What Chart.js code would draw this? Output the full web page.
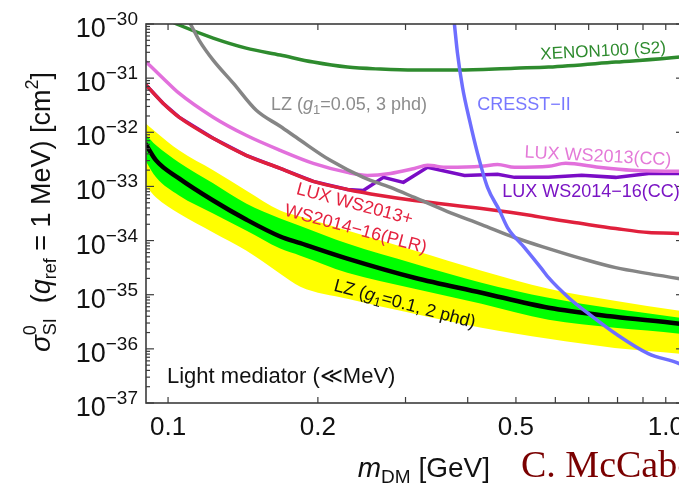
<!DOCTYPE html>
<html>
<head>
<meta charset="utf-8">
<script src="https://cdn.jsdelivr.net/npm/chart.js@4.4.1/dist/chart.umd.min.js"></script>
<style>
  html, body { margin: 0; padding: 0; background: #fff; overflow: hidden; }
  body { width: 679px; height: 488px; position: relative; }
  #wrap { position: absolute; left: 0; top: 0; width: 690px; height: 488px; }
</style>
</head>
<body>
<div id="wrap"><canvas id="limits" width="690" height="488"></canvas></div>
<script>
const SANS = "'Liberation Sans', Arial, sans-serif";
const SERIF = "'Liberation Serif', 'Times New Roman', serif";

// axis ticks
const yTickPowers = [-30, -31, -32, -33, -34, -35, -36, -37];
const xTickValues = [0.1, 0.2, 0.5, 1.0];
const xTickLabels = ["0.1", "0.2", "0.5", "1.0"];

// XENON100 (S2)
const xenonMass = [0.1, 0.1052, 0.1232, 0.1435, 0.168, 0.1958, 0.2292, 0.2671, 0.3126, 0.3815, 0.4967, 0.5815, 0.7932, 1.067, 1.10];
const xenonSigma = [1.19e-30, 9.58e-31, 5.50e-31, 3.59e-31, 2.67e-31, 1.98e-31, 1.60e-31, 1.47e-31, 1.41e-31, 1.41e-31, 1.53e-31, 1.60e-31, 1.98e-31, 2.45e-31, 2.55e-31];

// LZ (g1=0.05, 3 phd)
const lzWeakMass = [0.1092, 0.1112, 0.1154, 0.1232, 0.1352, 0.1504, 0.168, 0.1844, 0.2118, 0.2468, 0.2798, 0.3126, 0.3643, 0.4264, 0.4967, 0.5815, 0.6777, 0.7932, 0.9243, 1.067, 1.10];
const lzWeakSigma = [1.29e-30, 9.58e-31, 5.05e-31, 2.15e-31, 8.08e-32, 2.55e-32, 1.29e-32, 7.11e-33, 3.03e-33, 1.47e-33, 9.58e-34, 6.25e-34, 3.44e-34, 1.98e-34, 1.14e-34, 7.11e-35, 4.64e-35, 3.16e-35, 2.45e-35, 1.98e-35, 1.90e-35];

// LUX WS2013 (CC)
const lux13Mass = [0.09, 0.0977, 0.1052, 0.1232, 0.1435, 0.168, 0.1958, 0.2292, 0.2514, 0.2798, 0.3126, 0.3321, 0.3643, 0.4264, 0.4592, 0.4967, 0.5815, 0.6294, 0.7331, 0.8543, 1.067, 1.10];
const lux13Sigma = [2.06e-31, 1.0e-31, 5.27e-32, 1.90e-32, 8.80e-33, 4.64e-33, 2.67e-33, 1.82e-33, 1.60e-33, 1.74e-33, 2.15e-33, 2.45e-33, 2.25e-33, 2.35e-33, 2.55e-33, 2.25e-33, 2.35e-33, 2.67e-33, 2.25e-33, 1.98e-33, 1.90e-33, 1.90e-33];

// LUX WS2013+WS2014-16 (PLR)
const luxPlrMass = [0.09, 0.0977, 0.1052, 0.1232, 0.1435, 0.168, 0.1958, 0.2292, 0.2671, 0.3126, 0.4264, 0.5374, 0.5815, 0.6777, 0.7932, 0.9243, 1.067, 1.10];
const luxPlrSigma = [7.74e-32, 3.44e-32, 1.90e-32, 7.74e-33, 3.75e-33, 2.15e-33, 1.24e-33, 8.80e-34, 6.81e-34, 5.50e-34, 3.91e-34, 2.90e-34, 2.55e-34, 2.06e-34, 1.67e-34, 1.41e-34, 1.35e-34, 1.29e-34];

// LUX WS2014-16 (CC)
const lux1416Mass = [0.09, 0.0977, 0.1052, 0.1232, 0.1435, 0.168, 0.1958, 0.2292, 0.2468, 0.2708, 0.2971, 0.3321, 0.3942, 0.4592, 0.4967, 0.5815, 0.6777, 0.7932, 0.9243, 1.067, 1.10];
const lux1416Sigma = [7.74e-32, 3.44e-32, 1.90e-32, 7.74e-33, 3.75e-33, 2.15e-33, 1.24e-33, 8.80e-34, 8.43e-34, 1.47e-33, 1.19e-33, 2.25e-33, 1.60e-33, 1.67e-33, 1.47e-33, 1.47e-33, 1.60e-33, 1.47e-33, 1.74e-33, 1.74e-33, 1.74e-33];

// CRESST-II
const cresstMass = [0.3745, 0.3763, 0.3815, 0.3905, 0.4034, 0.4186, 0.4384, 0.4634, 0.4809, 0.5202, 0.5629, 0.5815, 0.6382, 0.7, 0.7932, 0.9243, 1.067, 1.10];
const cresstSigma = [1.47e-30, 9.58e-31, 2.90e-31, 6.81e-32, 1.67e-32, 4.08e-33, 9.58e-34, 3.59e-34, 1.74e-34, 7.42e-35, 3.03e-35, 2.06e-35, 8.80e-36, 4.45e-36, 1.90e-36, 8.08e-37, 5.27e-37, 4.45e-37];

// LZ (g1=0.1, 2 phd) projection with 1 and 2 sigma bands
const bandMass = [0.09, 0.0946, 0.1052, 0.1232, 0.1435, 0.168, 0.1844, 0.2292, 0.3126, 0.4264, 0.5815, 0.7896, 1.067, 1.10];
const lzYellowHi = [1.47e-32, 1.0e-32, 4.64e-33, 1.98e-33, 8.43e-34, 3.59e-34, 2.78e-34, 1.53e-34, 6.53e-35, 2.78e-35, 1.29e-35, 7.74e-36, 5.05e-36, 4.84e-36];
const lzGreenHi = [9.18e-33, 5.74e-33, 2.78e-33, 1.14e-33, 4.84e-34, 2.55e-34, 1.86e-34, 8.80e-35, 3.75e-35, 1.67e-35, 8.80e-36, 5.50e-36, 3.75e-36, 3.59e-36];
const lzMedian = [6.25e-33, 3.03e-33, 1.41e-33, 5.50e-34, 2.45e-34, 1.19e-34, 8.95e-35, 4.64e-35, 2.06e-35, 1.09e-35, 5.74e-36, 3.91e-36, 2.90e-36, 2.78e-36];
const lzGreenLo = [3.03e-33, 1.47e-33, 6.81e-34, 3.16e-34, 1.53e-34, 7.11e-35, 5.27e-35, 2.55e-35, 1.29e-35, 6.81e-36, 3.44e-36, 2.45e-36, 1.90e-36, 1.82e-36];
const lzYellowLo = [1.04e-33, 6.25e-34, 3.16e-34, 1.41e-34, 6.53e-35, 2.45e-35, 1.41e-35, 8.43e-36, 4.45e-36, 2.45e-36, 1.53e-36, 1.04e-36, 8.08e-37, 7.74e-37];

function pts(xs, ys) {
  return xs.map((x, i) => ({ x, y: ys[i] }));
}

function curve(label, xs, ys, color, width, order, extra) {
  return Object.assign({
    label,
    data: pts(xs, ys),
    borderColor: color,
    backgroundColor: color,
    borderWidth: width,
    pointRadius: 0,
    fill: false,
    cubicInterpolationMode: "monotone",
    clip: 0,
    order
  }, extra || {});
}

function font(size, style) {
  return (style || "") + " " + size + "px " + SANS;
}

// parts: [text, size, dy, style, noAdvance]
function rich(ctx, parts, x, y, align) {
  let w = 0;
  parts.forEach(p => {
    ctx.font = font(p[1], p[3]);
    if (!p[4]) w += ctx.measureText(p[0]).width;
  });
  let cx = align === "right" ? x - w : align === "center" ? x - w / 2 : x;
  parts.forEach(p => {
    ctx.font = font(p[1], p[3]);
    ctx.fillText(p[0], cx, y + (p[2] || 0));
    if (!p[4]) cx += ctx.measureText(p[0]).width;
  });
}

function label(ctx, parts, cx, cy, angle, color) {
  ctx.save();
  ctx.translate(cx, cy);
  ctx.rotate(angle * Math.PI / 180);
  ctx.fillStyle = color;
  rich(ctx, parts, 0, parts[0][1] * 0.36, "center");
  ctx.restore();
}

const decor = {
  id: "decor",
  afterDraw(chart) {
    const { ctx, chartArea: a, scales: { x, y } } = chart;
    ctx.save();
    ctx.textBaseline = "alphabetic";
    ctx.strokeStyle = "#3c3c3c";
    ctx.lineWidth = 1.6;
    ctx.strokeRect(a.left, a.top, a.right - a.left, a.bottom - a.top);

    ctx.lineWidth = 1.2;
    const tick = (x1, y1, x2, y2) => {
      ctx.beginPath(); ctx.moveTo(x1, y1); ctx.lineTo(x2, y2); ctx.stroke();
    };
    for (let k = 1; k <= 10; k++) {
      const px = x.getPixelForValue(k / 10);
      tick(px, a.bottom, px, a.bottom - 6);
      tick(px, a.top, px, a.top + 6);
    }
    for (let d = -37; d <= -30; d++) {
      for (let k = 1; k <= 9; k++) {
        if (d === -30 && k > 1) break;
        const py = y.getPixelForValue(k * Math.pow(10, d));
        const len = k === 1 ? 8 : 4;
        tick(a.left, py, a.left + len, py);
        tick(a.right, py, a.right - len, py);
      }
    }

    ctx.fillStyle = "#111";
    yTickPowers.forEach(p => {
      const py = y.getPixelForValue(Math.pow(10, p));
      rich(ctx, [["10", 27, 0], ["\u2212" + Math.abs(p), 19, -12]], 138, py + 13, "right");
    });
    xTickValues.forEach((v, i) => {
      ctx.font = font(26);
      ctx.textAlign = "center";
      ctx.fillText(xTickLabels[i], x.getPixelForValue(v), 435);
      ctx.textAlign = "left";
    });

    // axis titles
    rich(ctx, [["m", 28, 0, "italic"], ["DM", 19, 6], [" [GeV]", 28]], 490, 477, "right");
    ctx.save();
    ctx.translate(50, 212);
    ctx.rotate(-Math.PI / 2);
    rich(ctx, [["\u03c3", 28, 0, "italic"], ["0", 18, -14, "", true], ["SI", 18, 6], ["  (", 27],
      ["q", 27, 0, "italic"], ["ref", 18, 6], [" = 1 MeV) [cm", 27], ["2", 18, -12], ["]", 27]], 0, 0, "center");
    ctx.restore();

    // curve labels
    label(ctx, [["XENON100 (S2)", 17]], 603, 50, -3, "#2e8b2e");
    label(ctx, [["LZ (", 18], ["g", 18, 0, "italic"], ["1", 13, 4], ["=0.05, 3 phd)", 18]], 349, 104, 0, "#8c8c8c");
    label(ctx, [["CRESST\u2212II", 18]], 524, 104, 0, "#7878ff");
    label(ctx, [["LUX WS2013(CC)", 18]], 598, 155, 3, "#e47ad8");
    label(ctx, [["LUX WS2014\u221216(CC)", 18]], 591, 191, 0, "#7a14c4");
    label(ctx, [["LUX WS2013+", 18]], 355, 203, 15, "#e4223f");
    label(ctx, [["WS2014\u221216(PLR)", 18]], 356, 228, 15, "#e4223f");
    label(ctx, [["LZ (", 18], ["g", 18, 0, "italic"], ["1", 13, 4], ["=0.1, 2 phd)", 18]], 405, 303, 15, "#111");

    ctx.fillStyle = "#111";
    ctx.font = font(22);
    ctx.fillText("Light mediator (\u226aMeV)", 167, 383);

    ctx.fillStyle = "#7a0000";
    ctx.font = "38px " + SERIF;
    ctx.fillText("C. McCabe", 521, 477);
    ctx.restore();
  }
};

new Chart(document.getElementById("limits"), {
  type: "line",
  data: {
    datasets: [
      curve("2 sigma", bandMass, lzYellowHi, "#ffff00", 0, 10, { fill: "+1", backgroundColor: "#ffff00" }),
      curve("2 sigma lo", bandMass, lzYellowLo, "#ffff00", 0, 9),
      curve("1 sigma", bandMass, lzGreenHi, "#00ff00", 0, 8, { fill: "+1", backgroundColor: "#00ff00" }),
      curve("1 sigma lo", bandMass, lzGreenLo, "#00ff00", 0, 7),
      curve("LZ (g1=0.1, 2 phd)", bandMass, lzMedian, "#000000", 4.5, 6),
      curve("LUX WS2014-16 (CC)", lux1416Mass, lux1416Sigma, "#7a0cc6", 3.5, 5, { cubicInterpolationMode: "default", tension: 0 }),
      curve("LUX WS2013 (CC)", lux13Mass, lux13Sigma, "#e270dc", 3.5, 4),
      curve("LUX WS2013+WS2014-16 (PLR)", luxPlrMass, luxPlrSigma, "#e0203c", 3.5, 3),
      curve("LZ (g1=0.05, 3 phd)", lzWeakMass, lzWeakSigma, "#858585", 3.5, 2),
      curve("XENON100 (S2)", xenonMass, xenonSigma, "#2e8b2e", 3.5, 2),
      curve("CRESST-II", cresstMass, cresstSigma, "#6e6eff", 3.5, 1)
    ]
  },
  options: {
    responsive: false,
    devicePixelRatio: 1,
    animation: false,
    layout: { padding: { left: 146, top: 24, right: 6, bottom: 85 } },
    scales: {
      x: { type: "logarithmic", min: 0.0903, max: 1.088, display: false },
      y: { type: "logarithmic", min: 1e-37, max: 1e-30, display: false }
    },
    plugins: { legend: { display: false }, tooltip: { enabled: false } }
  },
  plugins: [decor]
});
</script>
</body>
</html>
